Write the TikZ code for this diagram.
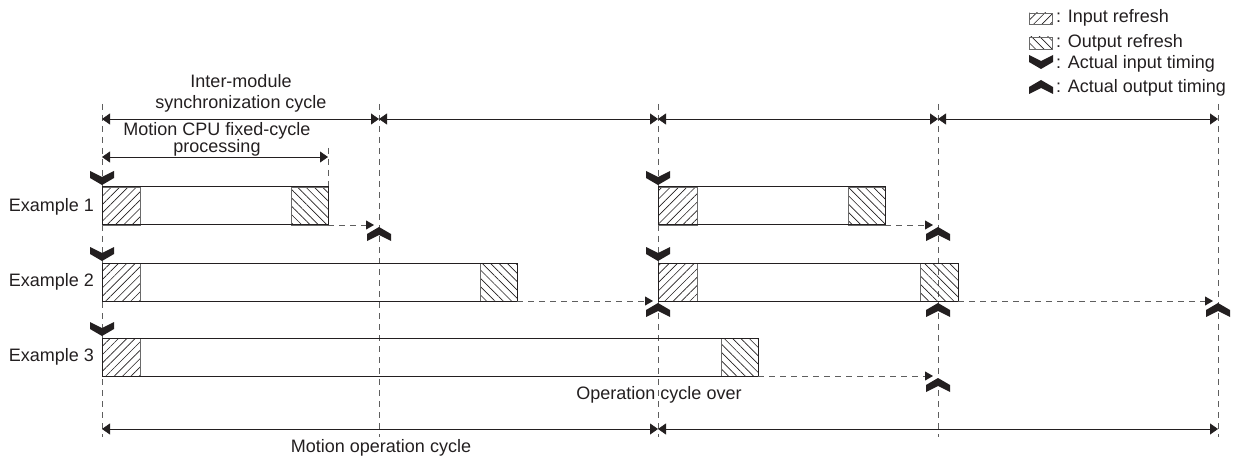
\documentclass[tikz,border=0pt]{standalone}
\usepackage{fontspec}
\setmainfont{Liberation Sans}
\usetikzlibrary{arrows.meta,patterns.meta}
\definecolor{inkgray}{HTML}{231F20}
\definecolor{dashgray}{HTML}{5E5E5E}
\definecolor{edgegray}{HTML}{6A6A6A}
\tikzset{
  lbl/.style={font=\fontsize{18}{21}\selectfont, text=inkgray, inner sep=0pt},
  tickline/.style={dashgray, line width=0.8pt, dash pattern=on 6pt off 5pt},
  dimarrow/.style={inkgray, line width=0.8pt, {Triangle[length=8pt,width=11pt]}-{Triangle[length=8pt,width=11pt]}},
  outarrow/.style={dashgray, line width=0.8pt, dash pattern=on 6pt off 5pt, -{Triangle[length=8pt,width=9pt,color=inkgray]}},
  procbox/.style={draw=inkgray, line width=1pt, anchor=north west, minimum height=38pt, inner sep=0pt, outer sep=0pt},
  inhatch/.style={draw=edgegray, line width=0.7pt, pattern={Lines[angle=45,distance=5.9pt,line width=0.65pt]}, pattern color=inkgray},
  outhatch/.style={draw=edgegray, line width=0.7pt, pattern={Lines[angle=-45,distance=5.9pt,line width=0.65pt]}, pattern color=inkgray},
  inmark/.pic={\fill[inkgray] (-12,-14) -- (0,-8) -- (12,-14) -- (12,-7) -- (0,0) -- (-12,-7) -- cycle;},
  outmark/.pic={\fill[inkgray] (-12,14) -- (0,8) -- (12,14) -- (12,7) -- (0,0) -- (-12,7) -- cycle;}
}

\begin{document}
\begin{tikzpicture}[line join=miter,x=1pt,y=-1pt]
\useasboundingbox (0,0) rectangle (1234,457);

%% cycle boundaries
\foreach \x [count=\i from 0] in {102,379,658,938,1218} {
  \draw[tickline] (\x,104) -- (\x,437);
  \coordinate (up\i) at (\x,119);
  \coordinate (dn\i) at (\x,429);
}
\draw[tickline] (328,148) -- (328,187);
\coordinate (cpuL) at (102,157);
\coordinate (cpuR) at (328,157);

%% dimension arrows
\draw[dimarrow] (up0) -- (up1);
\draw[dimarrow] (up1) -- (up2);
\draw[dimarrow] (up2) -- (up3);
\draw[dimarrow] (up3) -- (up4);
\draw[dimarrow] (cpuL) -- (cpuR);
\draw[dimarrow] (dn0) -- (dn2);
\draw[dimarrow] (dn2) -- (dn4);

\node[lbl, align=center] (synclbl) at (241,93) {Inter-module\\synchronization cycle};
\node[lbl, align=center, font=\fontsize{18}{17}\selectfont] (cpulbl) at (217,139) {Motion CPU fixed-cycle\\processing};

%% refresh hatches
\draw[inhatch] (102,187) rectangle (140,225);
\draw[outhatch] (291,187) rectangle (328,225);
\draw[inhatch] (658,187) rectangle (697,225);
\draw[outhatch] (848,187) rectangle (885,225);
\draw[inhatch] (102,263) rectangle (140,301);
\draw[outhatch] (480,263) rectangle (517,301);
\draw[inhatch] (658,263) rectangle (697,301);
\draw[outhatch] (920,263) rectangle (958,301);
\draw[inhatch] (102,338) rectangle (140,376);
\draw[outhatch] (721,338) rectangle (758,376);

%% processing boxes
\node[procbox, minimum width=226pt] (ex1a) at (102,187) {};
\node[procbox, minimum width=227pt] (ex1b) at (658,187) {};
\node[procbox, minimum width=415pt] (ex2a) at (102,263) {};
\node[procbox, minimum width=300pt] (ex2b) at (658,263) {};
\node[procbox, minimum width=656pt] (ex3a) at (102,338) {};

\node[lbl, anchor=east] (ex1lbl) at (94,207) {Example 1};
\node[lbl, anchor=east] (ex2lbl) at (94,282) {Example 2};
\node[lbl, anchor=east] (ex3lbl) at (94,357) {Example 3};

%% input timing
\pic at ([yshift=2pt]ex1a.north west) {inmark};
\pic at ([yshift=2pt]ex1b.north west) {inmark};
\pic at ([yshift=2pt]ex2a.north west) {inmark};
\pic at ([yshift=2pt]ex2b.north west) {inmark};
\pic at ([yshift=2pt]ex3a.north west) {inmark};

%% output timing
\coordinate (o1a) at (379,227);
\coordinate (o1b) at (938,227);
\coordinate (o2a) at (658,303);
\coordinate (o2b) at (938,303);
\coordinate (o2c) at (1218,303);
\coordinate (o3a) at (938,378);
\draw[outarrow] (ex1a.south east) -- ([xshift=-5pt]o1a |- ex1a.south east);
\draw[outarrow] (ex1b.south east) -- ([xshift=-5pt]o1b |- ex1b.south east);
\draw[outarrow] (ex2a.south east) -- ([xshift=-5pt]o2a |- ex2a.south east);
\draw[outarrow] (ex2b.south east) -- ([xshift=-5pt]o2c |- ex2b.south east);
\draw[outarrow] (ex3a.south east) -- ([xshift=-5pt]o3a |- ex3a.south east);
\pic at (o1a) {outmark};
\pic at (o1b) {outmark};
\pic at (o2a) {outmark};
\pic at (o2b) {outmark};
\pic at (o2c) {outmark};
\pic at (o3a) {outmark};

\node[lbl] (overlbl) at (659,395) {Operation cycle over};
\node[lbl] (motionlbl) at (381,448) {Motion operation cycle};

%% legend
\draw[inhatch] (1029,13) rectangle (1052,24);
\draw[outhatch] (1029,37) rectangle (1052,49);
\pic at (1041,69) {inmark};
\pic at (1041,80) {outmark};
\node[lbl, anchor=west] (leg1) at (1056,18) {: Input refresh};
\node[lbl, anchor=west] (leg2) at (1056,43) {: Output refresh};
\node[lbl, anchor=west] (leg3) at (1056,64) {: Actual input timing};
\node[lbl, anchor=west] (leg4) at (1056,88) {: Actual output timing};
\end{tikzpicture}
\end{document}
